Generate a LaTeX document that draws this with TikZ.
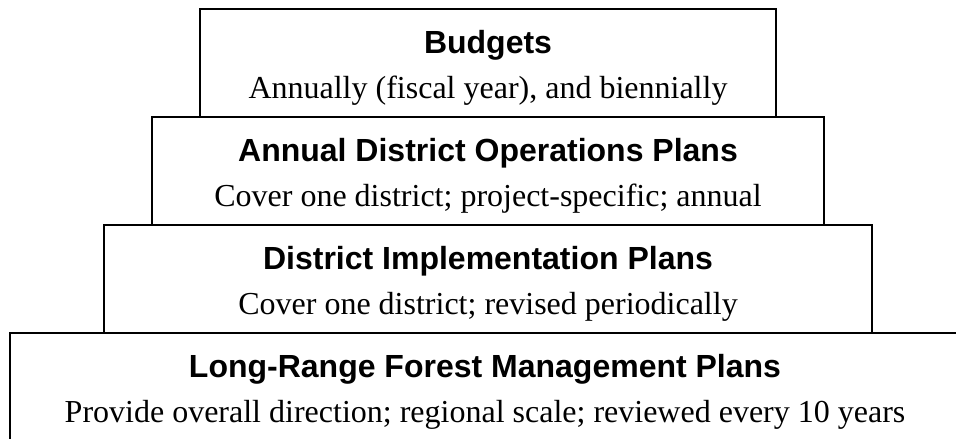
\documentclass[tikz,border=0pt]{standalone}
\usepackage{fontspec}
\setmainfont{Liberation Serif}
\setsansfont{Liberation Sans}
\usetikzlibrary{positioning}

\begin{document}
\begin{tikzpicture}[
    x=1pt, y=-1pt,
every node/.style = {inner sep=0pt, outer sep=0pt},
     tier/.style = {draw, line width=2pt, minimum height=108pt},
     head/.style = {anchor=base, font=\sffamily\bfseries\fontsize{32}{38}\selectfont},
  subline/.style = {anchor=base, font=\fontsize{32}{38}\selectfont}]
\clip (0,0) rectangle (956,439);

% the four tiers, top to bottom
\node[tier, minimum width=576pt] (budget) at (488,63) {};
\node[tier, minimum width=672pt] (annual) at (488,171) {};
\node[tier, minimum width=768pt] (district) at (488,279) {};
\node[tier, minimum width=950pt, minimum height=112pt] (longrange) at (485,389) {};

\node[head] (budgethead) at ([yshift=-44pt]budget.north) {Budgets};
\node[subline] (budgetsub) at ([yshift=-89pt]budget.north) {Annually (fiscal year), and biennially};

\node[head] (annualhead) at ([yshift=-44pt]annual.north) {Annual District Operations Plans};
\node[subline] (annualsub) at ([yshift=-89pt]annual.north) {Cover one district; project-specific; annual};

\node[head] (districthead) at ([yshift=-44pt]district.north) {District Implementation Plans};
\node[subline] (districtsub) at ([yshift=-89pt]district.north) {Cover one district; revised periodically};

\node[head] (longrangehead) at ([yshift=-44pt]longrange.north) {Long-Range Forest Management Plans};
\node[subline] (longrangesub) at ([yshift=-89pt]longrange.north) {Provide overall direction; regional scale; reviewed every 10 years};
\end{tikzpicture}
\end{document}
